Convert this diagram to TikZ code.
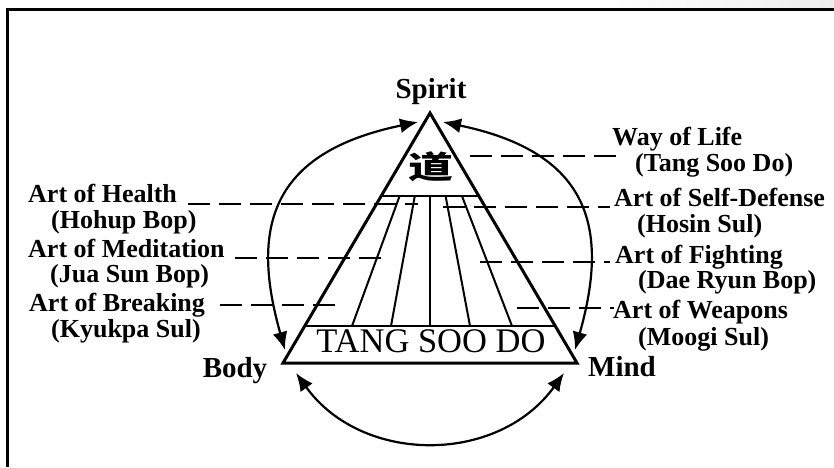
\documentclass[tikz,border=0pt]{standalone}
\usepackage{fontspec}
\setmainfont{Liberation Serif}
\newfontfamily\cjk{Noto Sans CJK SC}
\usetikzlibrary{arrows.meta,calc}
\tikzset{
  lab/.style={font=\bfseries\fontsize{26}{28}\selectfont, anchor=base west, inner sep=0pt},
  corner/.style={font=\bfseries\fontsize{29}{31}\selectfont, anchor=base, inner sep=0pt},
  tri/.style={line width=3pt, line join=miter},
  fan/.style={line width=2pt},
  leader/.style={line width=2.5pt, dash pattern=on 22pt off 9pt},
  cyc/.style={line width=2.2pt, {Latex[length=18pt,width=15pt]}-{Latex[length=18pt,width=15pt]}},
}
\begin{document}
\begin{tikzpicture}[x=1pt,y=-1pt]
\useasboundingbox (0,0) rectangle (834,467);
\shade[left color=white, right color=gray!14] (600,0) rectangle (834,8);
\draw[line width=3pt] (7,467) -- (7,9.5) -- (834,9.5);

% triangle
\coordinate (apex) at (430,113);
\coordinate (bl) at (283,363);
\coordinate (br) at (577,363);
\draw[tri] (apex) -- (bl) -- (br) -- cycle;
\draw[fan] ($(apex)!0.332!(bl)$) -- ($(apex)!0.332!(br)$);
\draw[fan] ($(apex)!0.852!(bl)$) -- ($(apex)!0.852!(br)$);
\foreach \bx in {352,391,430,470,512}
  \draw[fan] ($(apex)!0.3897!(\bx,326)$) -- (\bx,326);

\node[inner sep=0pt, font=\cjk\bfseries\fontsize{31}{31}\selectfont] (dao) at (431,167) {\scalebox{1.45}[1]{道}};
\node[inner sep=0pt, anchor=base, font=\fontsize{34.5}{36}\selectfont] (tsd) at (431,352) {TANG SOO DO};

% corner labels
\node[corner] (spirit) at (431,98) {Spirit};
\node[corner] (body) at (235,377) {Body};
\node[corner] (mind) at (622,376) {Mind};

% cycle arrows
\coordinate (la1) at (418,122); \coordinate (la2) at (285,350);
\coordinate (ra1) at (443,122); \coordinate (ra2) at (575,350);
\coordinate (ba1) at (296,373); \coordinate (ba2) at (564,373);
\draw[cyc] (la1) .. controls (268,153) and (251,230) .. (la2);
\draw[cyc] (ra1) .. controls (592,153) and (609,230) .. (ra2);
\draw[cyc] (ba1) .. controls (362,464.7) and (498,464.7) .. (ba2);

% right labels
\node[lab] (wol) at (612,145) {Way of Life};
\node[lab] (wols) at (635,171) {(Tang Soo Do)};
\node[lab] (sd) at (614,206) {Art of Self-Defense};
\node[lab] (sds) at (637,232) {(Hosin Sul)};
\node[lab] (fi) at (615,263) {Art of Fighting};
\node[lab] (fis) at (638,288) {(Dae Ryun Bop)};
\node[lab] (we) at (613,318) {Art of Weapons};
\node[lab] (wes) at (638,345) {(Moogi Sul)};
% left labels
\node[lab] (he) at (28,202) {Art of Health};
\node[lab] (hes) at (51,228) {(Hohup Bop)};
\node[lab] (me) at (28,257) {Art of Meditation};
\node[lab] (mes) at (50,282) {(Jua Sun Bop)};
\node[lab] (bk) at (29,311) {Art of Breaking};
\node[lab] (bks) at (51,337) {(Kyukpa Sul)};

% leaders
\coordinate (wolA) at (470,156); \coordinate (wolB) at (623,156);
\coordinate (heA) at (188,204);  \coordinate (heB) at (418,204);
\coordinate (sdA) at (443,207);  \coordinate (sdB) at (610,207);
\coordinate (meA) at (235,258);  \coordinate (meB) at (388,258);
\coordinate (fiA) at (480,262);  \coordinate (fiB) at (610,262);
\coordinate (bkA) at (220,305);  \coordinate (bkB) at (343,305);
\coordinate (weA) at (517,308);  \coordinate (weB) at (614,308);
\draw[leader] (wolA) -- (wolB);
\draw[leader] (heA) -- (heB);
\draw[leader] (sdA) -- (sdB);
\draw[leader] (meA) -- (meB);
\draw[leader] (fiA) -- (fiB);
\draw[leader] (bkA) -- (bkB);
\draw[leader] (weA) -- (weB);
\end{tikzpicture}
\end{document}
